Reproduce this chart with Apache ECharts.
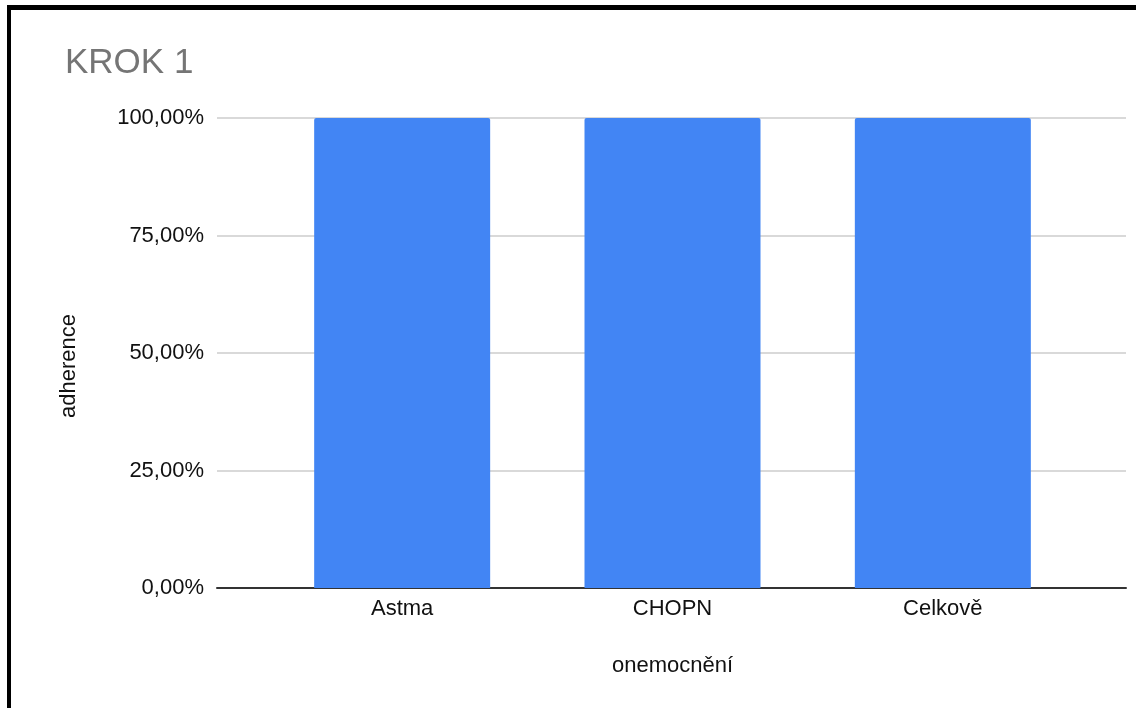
<!DOCTYPE html>
<html>
<head>
<meta charset="utf-8">
<script src="https://cdn.jsdelivr.net/npm/echarts@6/dist/echarts.min.js"></script>
<style>
  html, body { margin: 0; padding: 0; background: #fff; }
  #frame { position: absolute; left: 0; top: 0; width: 1136px; height: 708px; }
  #chart { position: absolute; left: 0; top: 0; width: 1136px; height: 708px; }
  /* heavy black frame around the sheet (top and left edges visible) */
  #edgeTop { position: absolute; left: 7px; top: 5px; width: 1129px; height: 5px; background: #000; }
  #edgeLeft { position: absolute; left: 7px; top: 5px; width: 4px; height: 703px; background: #000; }
</style>
</head>
<body>
<div id="frame">
  <div id="chart"></div>
  <div id="edgeTop"></div>
  <div id="edgeLeft"></div>
</div>
<script>
// Adherence per disease group (fraction of patients)
const categories = ['Astma', 'CHOPN', 'Celkově'];
const adherence = [1.0, 1.0, 1.0];
const yTicks = [0, 0.25, 0.5, 0.75, 1.0];

const FONT = '"Liberation Sans", Arial, sans-serif';
const fmtPct = v => (v * 100).toFixed(2).replace('.', ',') + '%';

const chart = echarts.init(document.getElementById('chart'), null, { renderer: 'canvas' });

chart.setOption({
  backgroundColor: '#ffffff',
  animation: false,
  textStyle: { fontFamily: FONT },
  title: {
    text: 'KROK 1',
    left: 60,
    top: 41,
    textStyle: { fontFamily: FONT, fontSize: 35, fontWeight: 'normal', color: '#757575' }
  },
  grid: [
    // full-width plot frame: gridlines, value labels, baseline
    { left: 217, right: 10, top: 118, bottom: 120, containLabel: false },
    // inner band area where the bars sit
    { left: 267, right: 58, top: 118, bottom: 120, containLabel: false }
  ],
  xAxis: [
    {
      type: 'category', gridIndex: 0, data: categories,
      axisLine: { show: true, lineStyle: { color: '#333333', width: 2 } },
      axisTick: { show: false }, axisLabel: { show: false }
    },
    {
      type: 'category', gridIndex: 1, data: categories,
      name: 'onemocnění', nameLocation: 'middle', nameGap: 67,
      nameTextStyle: { fontFamily: FONT, fontSize: 22, color: '#111111' },
      axisLine: { show: false }, axisTick: { show: false },
      axisLabel: { margin: 10, fontFamily: FONT, fontSize: 22, color: '#111111' }
    }
  ],
  yAxis: [
    {
      type: 'value', gridIndex: 0, min: 0, max: 1, interval: 0.25,
      name: 'adherence', nameLocation: 'middle', nameGap: 137, nameRotate: 90,
      // title sits a little below the plot's vertical centre
      nameTextStyle: { fontFamily: FONT, fontSize: 22, color: '#111111', padding: [0, 26, 0, 0] },
      axisLine: { show: false }, axisTick: { show: false },
      axisLabel: {
        margin: 13, fontFamily: FONT, fontSize: 22, color: '#111111',
        formatter: v => yTicks.includes(v) ? fmtPct(v) : ''
      },
      splitLine: { show: true, lineStyle: { color: '#cccccc', width: 1.5 } }
    },
    {
      type: 'value', gridIndex: 1, min: 0, max: 1, interval: 0.25,
      show: false, splitLine: { show: false }
    }
  ],
  series: [
    {
      type: 'bar', xAxisIndex: 1, yAxisIndex: 1,
      data: adherence, barWidth: 176,
      itemStyle: { color: '#4285f4', borderRadius: [2, 2, 0, 0] },
      z: 1
    }
  ]
});
</script>
</body>
</html>
